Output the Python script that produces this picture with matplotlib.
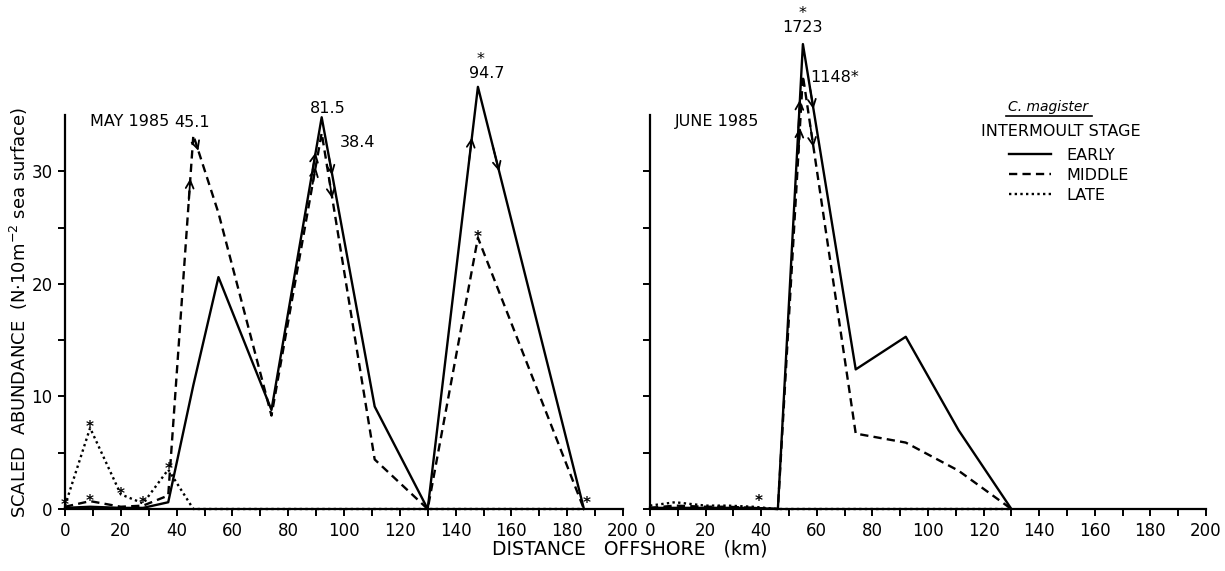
import numpy as np
import matplotlib
matplotlib.use('Agg')
import matplotlib.pyplot as plt
from matplotlib.lines import Line2D

# sampling stations (km offshore)
may_km = [0, 9, 20, 28, 37, 46, 55, 74, 92, 111, 130, 148, 186]
may_early = [0.1, 0.2, 0.1, 0.1, 0.6, 11.0, 20.6, 8.8, 34.8, 9.1, 0.0, 37.5, 0.0]
may_middle = [0.2, 0.7, 0.2, 0.3, 1.2, 33.2, 26.3, 8.3, 33.4, 4.4, 0.0, 24.1, 0.0]
may_late = [0.3, 7.2, 1.3, 0.5, 3.5, 0.0, 0.0, 0.0, 0.0, 0.0, 0.0, 0.0, 0.0]

june_km = [0, 9, 20, 28, 37, 46, 55, 74, 92, 111, 130]
june_early = [0.1, 0.1, 0.1, 0.1, 0.1, 0.0, 41.3, 12.4, 15.3, 7.0, 0.0]
june_middle = [0.1, 0.3, 0.2, 0.2, 0.1, 0.0, 38.5, 6.7, 5.9, 3.4, 0.0]
june_late = [0.3, 0.6, 0.3, 0.3, 0.2, 0.0, 0.0, 0.0, 0.0, 0.0, 0.0]

# off-scale peaks: (series, station km, true value text, label x, label y)
may_peaks = [('middle', 46, '45.1', 45.5, 34.3),
             ('early', 92, '81.5', 94.0, 35.6),
             ('middle', 92, '38.4', 105.0, 32.6),
             ('early', 148, '*  \n94.7', 151.0, 39.3)]
june_peaks = [('early', 55, '*\n1723', 55.0, 43.4),
              ('middle', 55, '1148*', 66.5, 38.3)]

# significance asterisks
may_stars_x = [0, 9, 9, 20, 28, 37, 148, 187]
may_stars_y = [0.3, 7.2, 0.7, 1.3, 0.5, 3.5, 24.1, 0.5]
june_stars_x = [39]
june_stars_y = [0.7]

styles = {'early': dict(ls='-', lw=1.7),
          'middle': dict(ls=(0, (3.5, 2.2)), lw=1.7),
          'late': dict(ls=(0, (1, 1.4)), lw=1.7)}

plt.rcParams['font.family'] = 'DejaVu Sans'
fs = 11.5

fig = plt.figure(figsize=(12.25, 5.71), dpi=100)
ax1 = fig.add_axes([65 / 1225, 62 / 571, 558 / 1225, 394 / 571])
ax2 = fig.add_axes([650 / 1225, 62 / 571, 556 / 1225, 394 / 571])


def leg_arrows(ax, xs, ys, k):
    # little chevrons on both legs of a truncated peak
    x0, y0 = xs[k], ys[k]
    for j, t, up in [(k - 1, 0.12, True), (k + 1, 0.14, False)]:
        dx, dy = xs[j] - x0, ys[j] - y0
        p = (x0 + t * dx, y0 + t * dy)
        q = (x0 + (t + 0.06) * dx, y0 + (t + 0.06) * dy)
        if up:
            ax.annotate('', xy=p, xytext=q, annotation_clip=False,
                        arrowprops=dict(arrowstyle='->', lw=1.3, color='k',
                                        mutation_scale=14, shrinkA=0, shrinkB=0))
        else:
            ax.annotate('', xy=q, xytext=p, annotation_clip=False,
                        arrowprops=dict(arrowstyle='->', lw=1.3, color='k',
                                        mutation_scale=14, shrinkA=0, shrinkB=0))


for ax, km, series, peaks, sx, sy, title in [
        (ax1, may_km, {'early': may_early, 'middle': may_middle, 'late': may_late},
         may_peaks, may_stars_x, may_stars_y, 'MAY 1985'),
        (ax2, june_km, {'early': june_early, 'middle': june_middle, 'late': june_late},
         june_peaks, june_stars_x, june_stars_y, 'JUNE 1985')]:
    for name in ['late', 'middle', 'early']:
        ax.plot(km, series[name], color='k', clip_on=False, **styles[name])
    for name, xk, txt, lx, ly in peaks:
        k = km.index(xk)
        leg_arrows(ax, km, series[name], k)
        ax.text(lx, ly, txt, ha='center', va='center', ma='center', fontsize=fs, linespacing=0.85)
    for x, y in zip(sx, sy):
        ax.text(x, y, '*', ha='center', va='center', fontsize=11, fontweight='bold')
    ax.text(9, 34.4, title, ha='left', va='center', fontsize=fs)

    ax.set_xlim(0, 200)
    ax.set_ylim(0, 35)
    ax.set_xticks(np.arange(0, 201, 20))
    ax.set_xticks(np.arange(0, 201, 10), minor=True)
    ax.set_yticks([0, 10, 20, 30])
    ax.set_yticks([5, 15, 25], minor=True)
    ax.spines['top'].set_visible(False)
    ax.spines['right'].set_visible(False)
    ax.spines['left'].set_linewidth(1.6)
    ax.spines['bottom'].set_linewidth(1.6)
    ax.tick_params(which='both', direction='out', length=5, width=1.4, labelsize=12, pad=4)
    ax.patch.set_alpha(0)

ax2.tick_params(axis='y', labelleft=False)

ax1.set_ylabel('SCALED  ABUNDANCE  (N·10m$^{-2}$ sea surface)', fontsize=13)
ax1.yaxis.set_label_coords(-0.062, 0.5)
fig.text(630 / 1225, 1 - 549 / 571, 'DISTANCE   OFFSHORE   (km)', ha='center', va='center', fontsize=13.5)

# legend block
fig.text(1048 / 1225, 1 - 107 / 571, 'C. magister', style='italic', ha='center', va='center', fontsize=10)
fig.add_artist(Line2D([1006 / 1225, 1092 / 1225], [1 - 116 / 571, 1 - 116 / 571], color='k', lw=1.2))
fig.text(1061 / 1225, 1 - 131 / 571, 'INTERMOULT STAGE', ha='center', va='center', fontsize=fs)
handles = [Line2D([], [], color='k', **styles[n]) for n in ['early', 'middle', 'late']]
ax2.legend(handles, ['EARLY', 'MIDDLE', 'LATE'], loc='upper left', frameon=False,
           bbox_to_anchor=(1001 / 1225, 1 - 140 / 571), bbox_transform=fig.transFigure,
           borderpad=0, handlelength=2.6, handletextpad=1.0, labelspacing=0.3, fontsize=fs)

fig.savefig('out.png', dpi=100)
